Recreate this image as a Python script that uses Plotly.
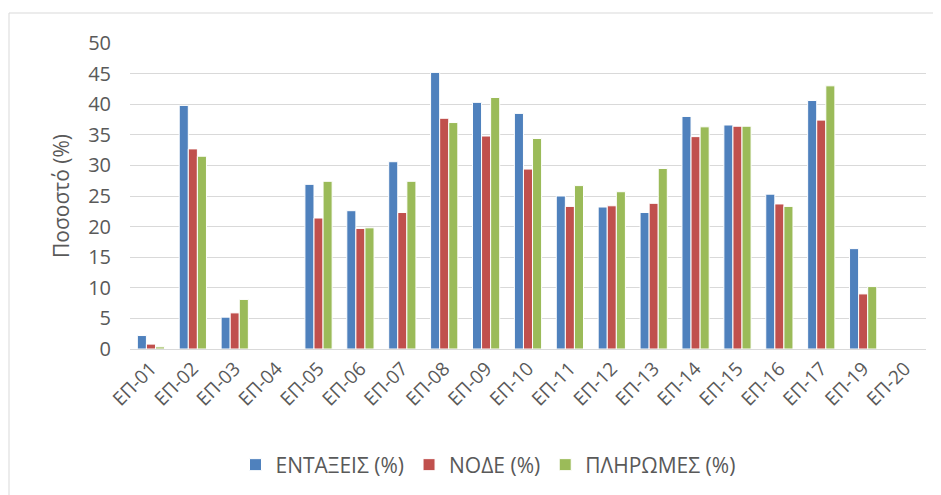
import plotly.graph_objects as go

categories = ["ΕΠ-01", "ΕΠ-02", "ΕΠ-03", "ΕΠ-04", "ΕΠ-05", "ΕΠ-06", "ΕΠ-07", "ΕΠ-08", "ΕΠ-09", "ΕΠ-10",
              "ΕΠ-11", "ΕΠ-12", "ΕΠ-13", "ΕΠ-14", "ΕΠ-15", "ΕΠ-16", "ΕΠ-17", "ΕΠ-19", "ΕΠ-20"]
entaxeis = [2.2, 39.8, 5.2, 0, 26.9, 22.6, 30.6, 45.2, 40.3, 38.5, 25.0, 23.2, 22.3, 38.0, 36.6, 25.3, 40.6, 16.4, 0]
node = [0.8, 32.7, 5.9, 0, 21.4, 19.7, 22.3, 37.7, 34.8, 29.4, 23.3, 23.4, 23.8, 34.7, 36.4, 23.7, 37.4, 9.0, 0]
pliromes = [0.35, 31.5, 8.1, 0, 27.4, 19.8, 27.4, 37.0, 41.1, 34.4, 26.7, 25.7, 29.5, 36.3, 36.4, 23.3, 43.0, 10.2, 0]

series_names = ["ΕΝΤΑΞΕΙΣ (%)", "ΝΟΔΕ (%)", "ΠΛΗΡΩΜΕΣ (%)"]
colors = ["#4F81BD", "#C0504D", "#9BBB59"]

# page body has an 8px margin; figure is sized so the plot lands where the reference has it
OFF = 8
W, H = 941 - OFF, 495 - OFF
PL, PR, PT, PB = 130, 926, 43, 349  # plot area in screenshot coordinates
ml, mr, mt, mb = PL - OFF, (OFF + W) - PR, PT - OFF, (OFF + H) - PB
pw, ph = PR - PL, PB - PT

fig = go.Figure()
for name, vals, c in zip(series_names, [entaxeis, node, pliromes], colors):
    fig.add_trace(go.Bar(x=categories, y=vals, name=name,
                         marker=dict(color=c, line=dict(color="white", width=1))))

fig.add_shape(type="rect", xref="paper", yref="paper",
              x0=(9 - PL) / pw, x1=(960 - PL) / pw,
              y0=(PB - 520) / ph, y1=(PB - 13) / ph,
              line=dict(color="#D9D9D9", width=1), fillcolor="rgba(0,0,0,0)", layer="below")

fig.update_layout(
    width=W, height=H,
    margin=dict(l=ml, r=mr, t=mt, b=mb, autoexpand=False),
    paper_bgcolor="white", plot_bgcolor="white",
    barmode="group", bargap=0.35, bargroupgap=0,
    font=dict(family="Open Sans, Calibri, sans-serif", color="#595959"),
    showlegend=True,
    legend=dict(orientation="h", x=(488 - PL) / pw, xanchor="center",
                y=(PB - 465) / ph, yanchor="middle",
                font=dict(size=21, color="#595959"), itemwidth=30, traceorder="normal"),
    xaxis=dict(tickangle=-45, tickfont=dict(size=19, color="#595959"), showline=True,
               linecolor="#D9D9D9", linewidth=1, showgrid=False, ticks="", automargin=False),
    yaxis=dict(range=[0, 50], dtick=5, tickfont=dict(size=20, color="#595959"),
               showgrid=True, gridcolor="#D9D9D9", gridwidth=1, zeroline=False,
               ticklabelstandoff=18, automargin=False,
               title=dict(text="Ποσοστό (%)", font=dict(size=21, color="#595959"), standoff=12)),
)

fig.write_html("out.html")
